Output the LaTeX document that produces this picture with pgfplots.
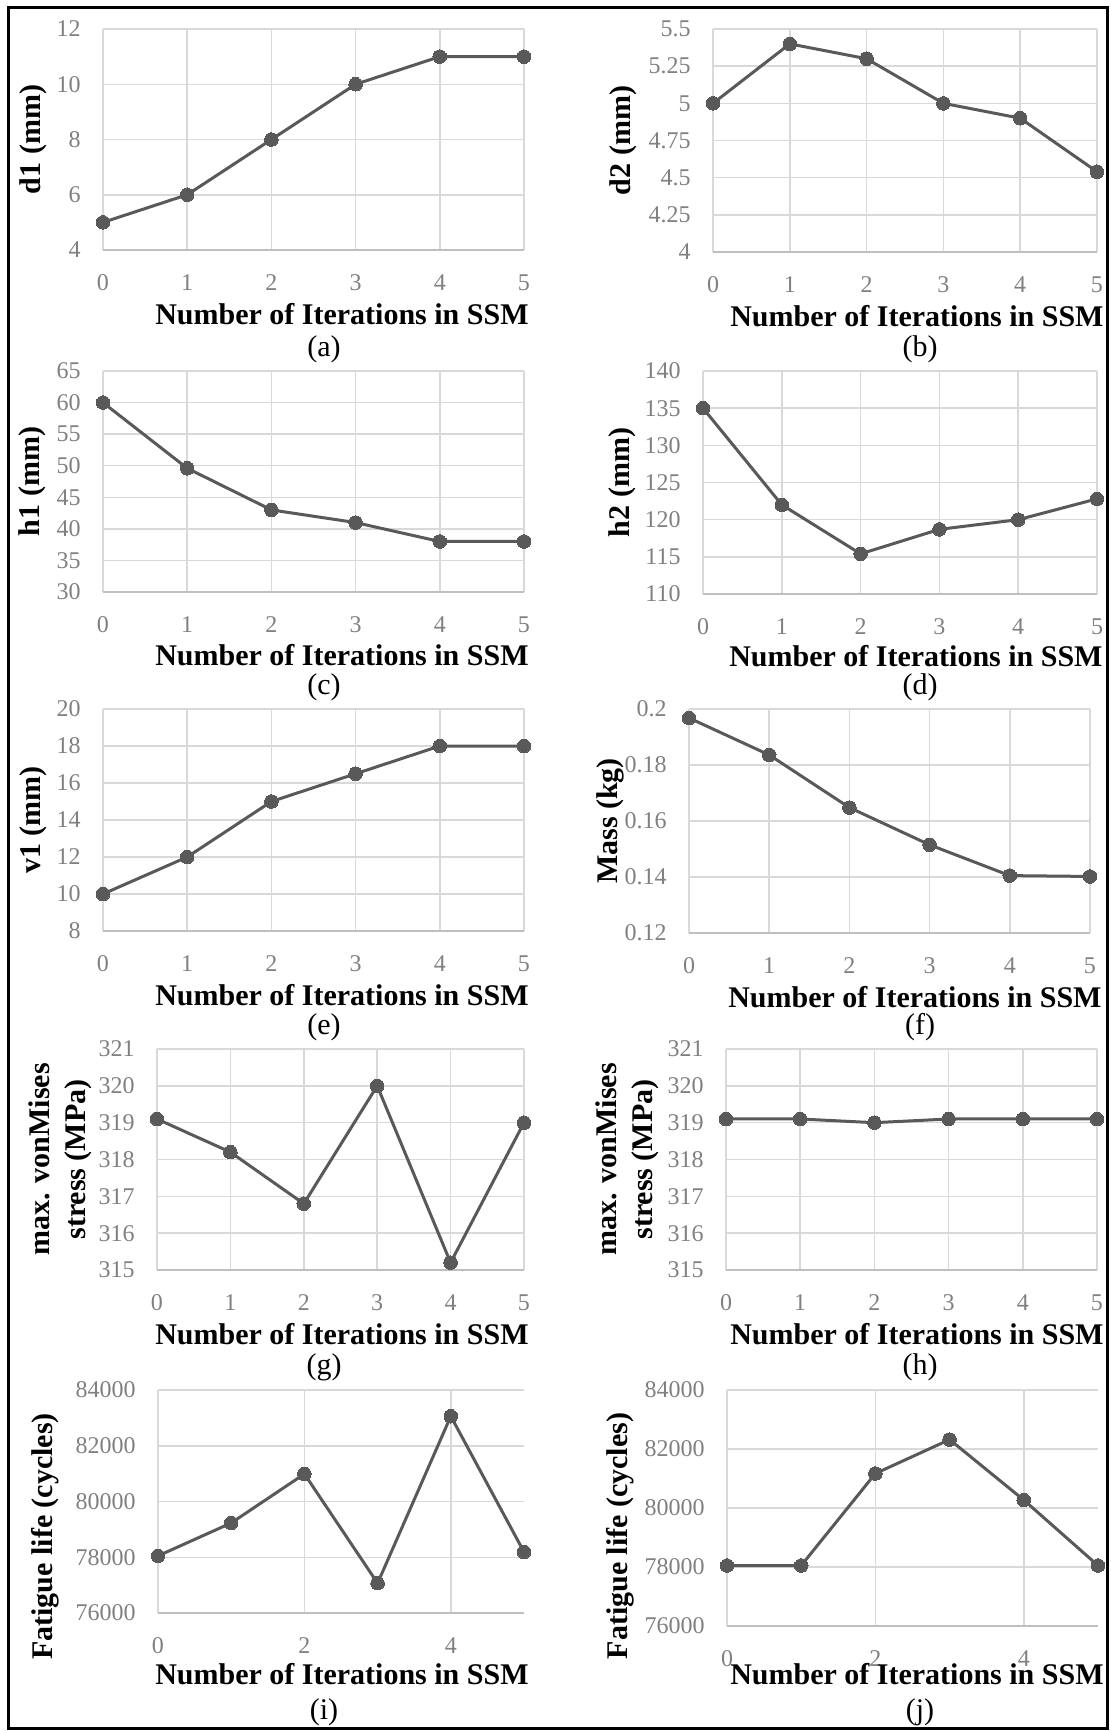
\documentclass[border=0pt]{standalone}
\usepackage{pgfplots}
\pgfplotsset{compat=1.18}
\usepackage{fontspec}
\setmainfont{Liberation Serif}
\definecolor{linegray}{RGB}{89,89,89}
\definecolor{gridgray}{RGB}{217,217,217}
\definecolor{axisgray}{RGB}{191,191,191}
\definecolor{tickgray}{RGB}{128,128,128}
\newcommand{\labfont}{\bfseries\fontsize{15}{18}\selectfont}

\pgfplotsset{
  panel/.style={
    scale only axis, clip=false, anchor=north west,
    xmin=0, xmax=5, xtick={0,1,2,3,4,5}, xticklabels={0,1,2,3,4,5},
    scaled x ticks=false, scaled y ticks=false,
    axis x line*=bottom, axis y line*=left,
    x axis line style={draw=axisgray, line width=0.8pt},
    y axis line style={draw=none},
    major tick length=0pt,
    xmajorgrids, ymajorgrids,
    major grid style={draw=gridgray, line width=0.75pt},
    tick label style={font=\fontsize{12}{14}\selectfont, text=tickgray},
    yticklabel style={anchor=east, inner sep=0pt, xshift=-11pt},
    xticklabel style={anchor=north, inner sep=0pt, yshift=-12pt},
    every axis x label/.style={at={(axis description cs:1,0)}, anchor=east, font=\labfont, inner sep=0pt, text=black},
    every axis y label/.style={rotate=90, anchor=center, align=center, font=\labfont, inner sep=0pt, text=black},
    xlabel={Number of Iterations in SSM},
  },
  ser/.style={color=linegray, line width=1.5pt, mark=*, mark size=3.4pt,
    mark options={solid, fill=linegray, draw=linegray, line width=0pt}},
}

\begin{document}
\begin{tikzpicture}
\path[use as bounding box] (0pt,0pt) rectangle (555pt,-865.5pt);
\draw[black, line width=1.5pt] (4pt,-3.5pt) rectangle (553.5pt,-864pt);

% (a)
\begin{axis}[panel, at={(51.5pt,-14.5pt)}, width=210.5pt, height=110.5pt,
  ymin=4, ymax=12, ytick={4,6,8,10,12}, yticklabels={4,6,8,10,12},
  ylabel={d1 (mm)}, ylabel style={at={([xshift=-35pt]axis description cs:0,0.5)}},
  xlabel style={xshift=2.5pt, yshift=-32pt}]
\addplot[ser] coordinates {(0,5)(1,6)(2,8)(3,10)(4,11)(5,11)};
\end{axis}

% (b)
\begin{axis}[panel, at={(356.5pt,-14.5pt)}, width=192pt, height=111.5pt,
  ymin=4, ymax=5.5, ytick={4,4.25,4.5,4.75,5,5.25,5.5}, yticklabels={4,4.25,4.5,4.75,5,5.25,5.5},
  ylabel={d2 (mm)}, ylabel style={at={([xshift=-45pt]axis description cs:0,0.5)}},
  xlabel style={xshift=3.5pt, yshift=-32pt}]
\addplot[ser] coordinates {(0,5)(1,5.4)(2,5.3)(3,5.0)(4,4.9)(5,4.54)};
\end{axis}

% (c)
\begin{axis}[panel, at={(51.5pt,-185.5pt)}, width=210.5pt, height=110.5pt,
  ymin=30, ymax=65, ytick={30,35,40,45,50,55,60,65}, yticklabels={30,35,40,45,50,55,60,65},
  ylabel={h1 (mm)}, ylabel style={at={([xshift=-35.5pt]axis description cs:0,0.5)}},
  xlabel style={xshift=2.5pt, yshift=-31.5pt}]
\addplot[ser] coordinates {(0,60)(1,49.6)(2,43)(3,41)(4,38)(5,38)};
\end{axis}

% (d)
\begin{axis}[panel, at={(351.5pt,-185.5pt)}, width=197pt, height=111.5pt,
  ymin=110, ymax=140, ytick={110,115,120,125,130,135,140}, yticklabels={110,115,120,125,130,135,140},
  ylabel={h2 (mm)}, ylabel style={at={([xshift=-40.5pt]axis description cs:0,0.5)}},
  xlabel style={xshift=3pt, yshift=-31pt}]
\addplot[ser] coordinates {(0,135)(1,122)(2,115.4)(3,118.7)(4,120)(5,122.8)};
\end{axis}

% (e)
\begin{axis}[panel, at={(51.5pt,-354.5pt)}, width=210.5pt, height=111pt,
  ymin=8, ymax=20, ytick={8,10,12,14,16,18,20}, yticklabels={8,10,12,14,16,18,20},
  ylabel={v1 (mm)}, ylabel style={at={([xshift=-35pt]axis description cs:0,0.5)}},
  xlabel style={xshift=2.5pt, yshift=-32pt}]
\addplot[ser] coordinates {(0,10)(1,12)(2,15)(3,16.5)(4,18)(5,18)};
\end{axis}

% (f)
\begin{axis}[panel, at={(344.5pt,-354.5pt)}, width=200.5pt, height=112pt,
  ymin=0.12, ymax=0.2, ytick={0.12,0.14,0.16,0.18,0.2}, yticklabels={0.12,0.14,0.16,0.18,0.2},
  ylabel={Mass (kg)}, ylabel style={at={([xshift=-39.5pt]axis description cs:0,0.5)}},
  xlabel style={xshift=6pt, yshift=-32pt}]
\addplot[ser] coordinates {(0,0.1968)(1,0.1836)(2,0.1648)(3,0.1515)(4,0.1405)(5,0.1402)};
\end{axis}

% (g)
\begin{axis}[panel, at={(78.5pt,-524.5pt)}, width=183.5pt, height=110.5pt,
  ymin=315, ymax=321, ytick={315,316,317,318,319,320,321}, yticklabels={315,316,317,318,319,320,321},
  ylabel={max. vonMises\\stress (MPa)}, ylabel style={at={([xshift=-48.5pt]axis description cs:0,0.5)}},
  xlabel style={xshift=2.5pt, yshift=-32pt}]
\addplot[ser] coordinates {(0,319.1)(1,318.2)(2,316.8)(3,320.0)(4,315.2)(5,319.0)};
\end{axis}

% (h)
\begin{axis}[panel, at={(363pt,-524.5pt)}, width=185.5pt, height=110.5pt,
  ymin=315, ymax=321, ytick={315,316,317,318,319,320,321}, yticklabels={315,316,317,318,319,320,321},
  ylabel={max. vonMises\\stress (MPa)}, ylabel style={at={([xshift=-49.5pt]axis description cs:0,0.5)}},
  xlabel style={xshift=3.5pt, yshift=-32pt}]
\addplot[ser] coordinates {(0,319.1)(1,319.1)(2,319.0)(3,319.1)(4,319.1)(5,319.1)};
\end{axis}

% (i)
\begin{axis}[panel, at={(79pt,-695pt)}, width=183pt, height=111.5pt,
  xtick={0,2,4}, xticklabels={0,2,4},
  ymin=76000, ymax=84000, ytick={76000,78000,80000,82000,84000}, yticklabels={76000,78000,80000,82000,84000},
  ylabel={Fatigue life (cycles)}, ylabel style={at={([xshift=-56.5pt,yshift=-17.5pt]axis description cs:0,0.5)}},
  xlabel style={xshift=2.5pt, yshift=-30.5pt}]
\addplot[ser] coordinates {(0,78050)(1,79230)(2,80990)(3,77070)(4,83060)(5,78190)};
\end{axis}

% (j)
\begin{axis}[panel, at={(363.5pt,-695pt)}, width=185.5pt, height=118pt,
  xtick={0,2,4}, xticklabels={0,2,4},
  ymin=76000, ymax=84000, ytick={76000,78000,80000,82000,84000}, yticklabels={76000,78000,80000,82000,84000},
  ylabel={Fatigue life (cycles)}, ylabel style={at={([xshift=-53.5pt,yshift=-14pt]axis description cs:0,0.5)}},
  xlabel style={xshift=3pt, yshift=-24pt}]
\addplot[ser] coordinates {(0,78050)(1,78050)(2,81170)(3,82320)(4,80270)(5,78050)};
\end{axis}

% captions
\begin{scope}[every node/.style={font=\fontsize{15}{18}\selectfont, inner sep=0pt}]
\node at (162pt,-174.5pt) {(a)};
\node at (460pt,-174.5pt) {(b)};
\node at (162pt,-343.5pt) {(c)};
\node at (460pt,-343.5pt) {(d)};
\node at (162pt,-513.5pt) {(e)};
\node at (460pt,-513.5pt) {(f)};
\node at (162pt,-683.5pt) {(g)};
\node at (460pt,-683.5pt) {(h)};
\node at (162pt,-856pt) {(i)};
\node at (460pt,-856pt) {(j)};
\end{scope}
\end{tikzpicture}
\end{document}
